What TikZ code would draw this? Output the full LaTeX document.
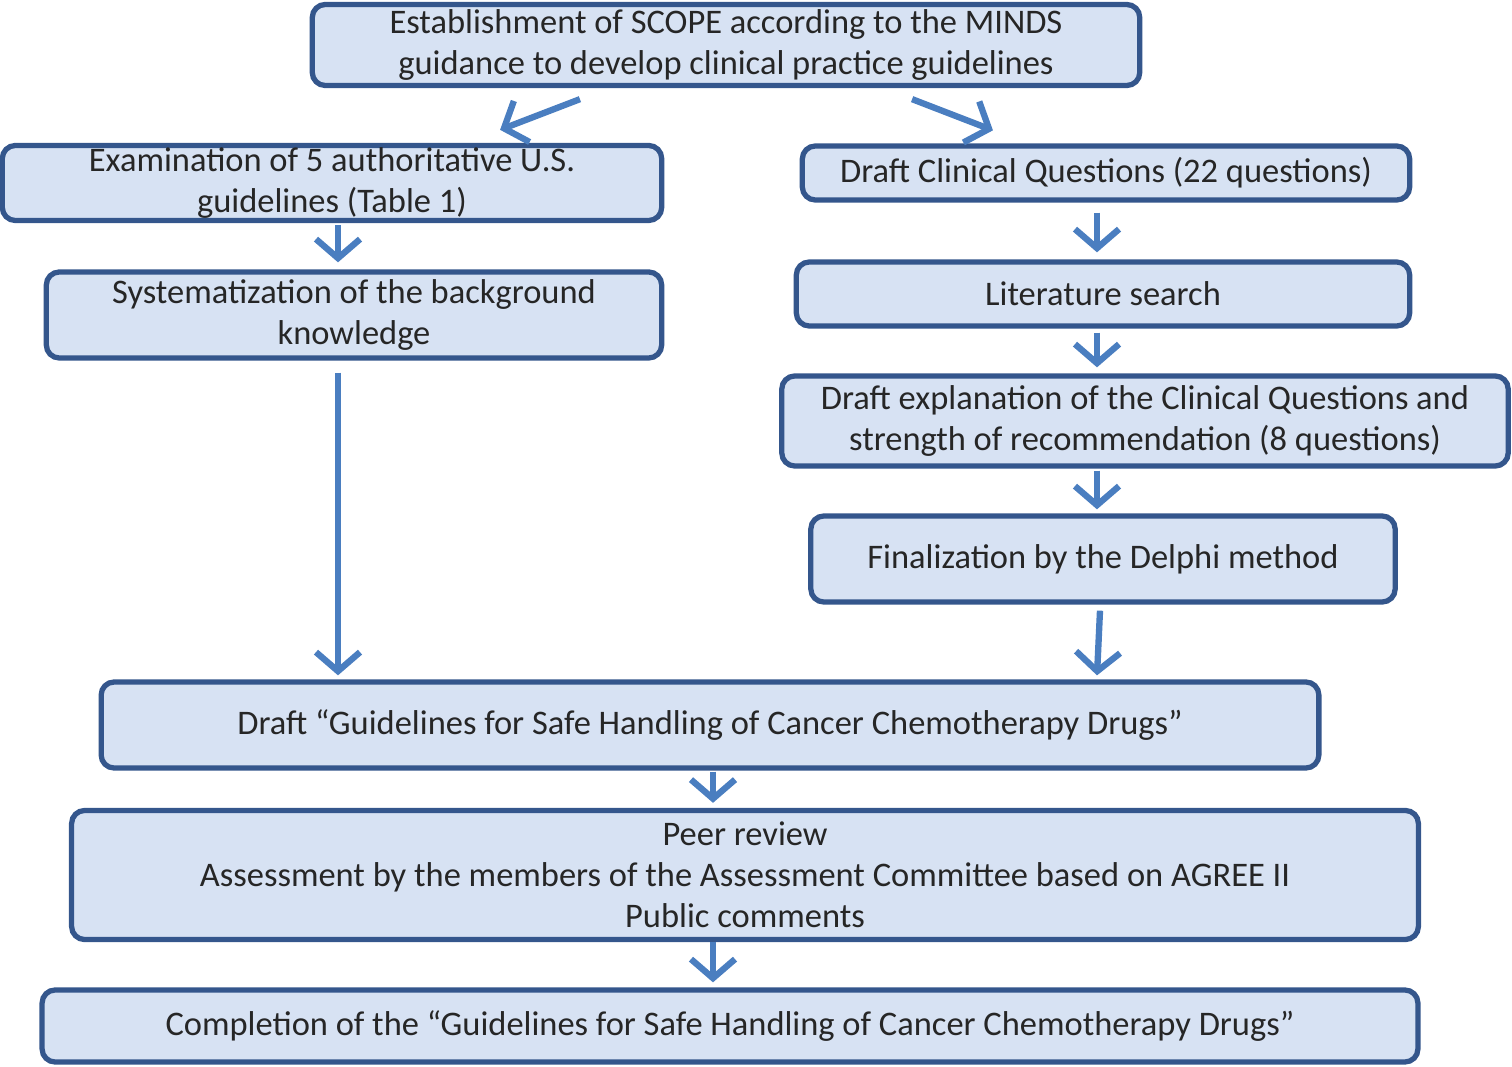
\documentclass[tikz,border=0pt]{standalone}
\usepackage{fontspec}
\setmainfont{Carlito}
\usetikzlibrary{arrows.meta}
\definecolor{boxfill}{HTML}{D7E2F3}
\definecolor{boxline}{HTML}{34568C}
\definecolor{arrowblue}{HTML}{4A7EC0}
\definecolor{textgray}{HTML}{262626}
\tikzset{
  box/.style={draw=boxline, fill=boxfill, line width=1.5pt, rounded corners=0.13cm,
    align=center, inner sep=0pt, text=textgray, font=\fontsize{9.8}{11.6}\selectfont},
  arr/.style={draw=arrowblue, line width=1.8pt,
    -{Straight Barb[length=1.9mm,width=4.4mm,line width=1.8pt]}}
}
\begin{document}
\begin{tikzpicture}[x=0.01cm, y=-0.01cm]
            \useasboundingbox (0,0) rectangle (1512,1067);
            % Nodes
            \node[box, minimum width=8.27cm, minimum height=0.81cm] (scope) at (726, 45) {Establishment of SCOPE according to the MINDS\\guidance to develop clinical practice guidelines};
            \node[box, minimum width=6.59cm, minimum height=0.75cm] (exam) at (332, 183) {Examination of 5 authoritative U.S.\\guidelines (Table 1)};
            \node[box, minimum width=6.15cm, minimum height=0.86cm] (syst) at (354, 315) {Systematization of the background\\knowledge};
            \node[box, minimum width=6.07cm, minimum height=0.54cm] (dcq) at (1106, 173) {Draft Clinical Questions (22 questions)};
            \node[box, minimum width=6.13cm, minimum height=0.64cm] (lit) at (1103, 294) {Literature search};
            \node[box, minimum width=7.26cm, minimum height=0.90cm] (expl) at (1145, 421) {Draft explanation of the Clinical Questions and\\strength of recommendation (8 questions)};
            \node[box, minimum width=5.84cm, minimum height=0.86cm] (delphi) at (1103, 559) {Finalization by the Delphi method};
            \node[box, minimum width=12.17cm, minimum height=0.86cm] (draft) at (710, 725) {Draft \textquotedblleft Guidelines for Safe Handling of Cancer Chemotherapy Drugs\textquotedblright};
            \node[box, minimum width=13.46cm, minimum height=1.29cm] (peer) at (745, 875) {Peer review\\Assessment by the members of the Assessment Committee based on AGREE II\\Public comments};
            \node[box, minimum width=13.75cm, minimum height=0.72cm] (compl) at (730, 1026) {Completion of the \textquotedblleft Guidelines for Safe Handling of Cancer Chemotherapy Drugs\textquotedblright};

            % Arrows
            \draw[arr] ([xshift=-1.46cm, yshift=-0.11cm]scope.south) -- ([xshift=1.68cm, yshift=0.13cm]exam.north);
            \draw[arr] ([xshift=1.86cm, yshift=-0.11cm]scope.south) -- ([xshift=-1.13cm, yshift=0.13cm]dcq.north);
            \draw[arr] ([xshift=0.06cm, yshift=-0.02cm]exam.south) -- ([xshift=0.06cm, yshift=0.07cm]exam.south |- syst.north);
            \draw[arr] ([xshift=-0.16cm, yshift=-0.12cm]syst.south) -- ([xshift=-0.16cm, yshift=0.04cm]syst.south |- draft.north);
            \draw[arr] ([xshift=-0.09cm, yshift=-0.10cm]dcq.south) -- ([xshift=-0.09cm, yshift=0.07cm]dcq.south |- lit.north);
            \draw[arr] ([xshift=-0.06cm, yshift=-0.04cm]lit.south) -- ([xshift=-0.06cm, yshift=0.06cm]lit.south |- expl.north);
            \draw[arr] ([xshift=-0.48cm, yshift=-0.02cm]expl.south) -- ([xshift=-0.48cm, yshift=0.04cm]expl.south |- delphi.north);
            \draw[arr] ([xshift=-0.03cm, yshift=-0.06cm]delphi.south) -- ([xshift=-0.06cm, yshift=0.04cm]delphi.south |- draft.north);
            \draw[arr] ([xshift=0.03cm, yshift=-0.01cm]draft.south) -- ([xshift=0.03cm, yshift=0.05cm]draft.south |- peer.north);
            \draw[arr] ([xshift=-0.32cm, yshift=0.00cm]peer.south) -- ([xshift=-0.32cm, yshift=0.05cm]peer.south |- compl.north);
\end{tikzpicture}
\end{document}
